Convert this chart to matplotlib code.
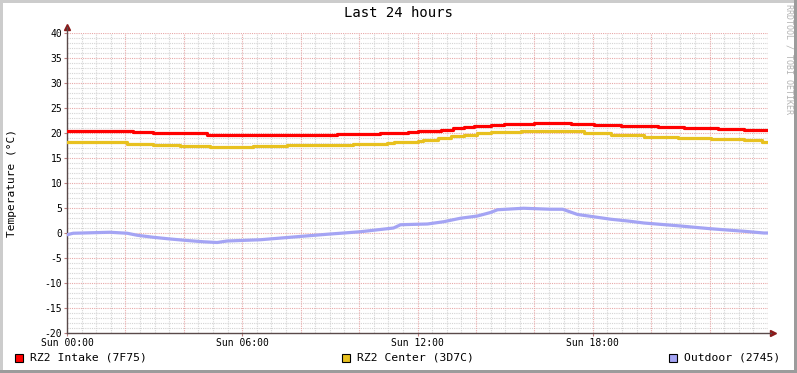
import numpy as np
import matplotlib
matplotlib.use("Agg")
import matplotlib.pyplot as plt
from matplotlib.patches import Rectangle

# hours since Sun 00:00 and temperatures (degC)
intake_h = [0, 2.26, 2.95, 4.8, 9.26, 10.73, 11.66, 12.0, 12.79, 13.2, 13.58, 13.92,
            14.5, 14.95, 15.98, 17.24, 18.03, 18.96, 20.23, 21.12, 22.28, 23.17, 24]
intake_t = [20.45, 20.2, 20.0, 19.7, 19.8, 20.0, 20.3, 20.45, 20.7, 21.0, 21.25, 21.45,
            21.65, 21.85, 22.05, 21.9, 21.7, 21.45, 21.25, 21.05, 20.85, 20.65, 20.65]

center_h = [0, 2.06, 2.95, 3.87, 4.9, 6.38, 7.54, 9.8, 10.97, 11.18, 12.0, 12.2, 12.69,
            13.13, 13.58, 14.05, 14.5, 15.53, 16.56, 17.69, 18.62, 19.75, 20.91, 22.04,
            23.17, 23.8, 24]
center_t = [18.15, 17.9, 17.65, 17.4, 17.2, 17.45, 17.6, 17.75, 17.95, 18.25, 18.5, 18.65,
            19.05, 19.4, 19.7, 19.95, 20.2, 20.35, 20.4, 20.05, 19.65, 19.3, 18.95, 18.75,
            18.6, 18.3, 18.3]

outdoor_h = [0, 0.21, 1.47, 2.06, 2.4, 2.95, 3.53, 4.11, 4.66, 5.14, 5.48, 6.62, 7.75,
             8.91, 10.04, 11.18, 11.42, 12.0, 12.34, 12.89, 13.47, 14.05, 14.5, 14.74,
             15.63, 16.56, 16.97, 17.48, 18.03, 18.62, 19.2, 19.75, 20.91, 22.04, 23.17,
             23.86, 24]
outdoor_t = [-0.35, -0.05, 0.15, -0.05, -0.45, -0.85, -1.2, -1.5, -1.75, -1.9, -1.6, -1.35,
             -0.8, -0.25, 0.25, 1.0, 1.65, 1.75, 1.8, 2.25, 2.95, 3.4, 4.1, 4.65, 4.95,
             4.75, 4.75, 3.7, 3.25, 2.75, 2.4, 2.0, 1.45, 0.85, 0.35, 0.0, 0.0]

x_ticks = [0, 6, 12, 18]
x_labels = ["Sun 00:00", "Sun 06:00", "Sun 12:00", "Sun 18:00"]
y_ticks = list(range(-20, 41, 5))

labels = ["RZ2 Intake (7F75)", "RZ2 Center (3D7C)", "Outdoor (2745)"]
colors = ["#ff0000", "#e8c11f", "#a4a4f4"]

W, H = 797, 373
mono = "DejaVu Sans Mono"

fig = plt.figure(figsize=(W / 100, H / 100), dpi=100)
fig.patch.set_facecolor("white")


def fx(px):
    return px / W


def fy(py):
    return 1 - py / H


# outer border like rrdtool's shaded frame
fig.add_artist(Rectangle((0, fy(3)), 1, 3 / H, transform=fig.transFigure, color="#cccccc", lw=0))
fig.add_artist(Rectangle((0, 0), 3 / W, 1, transform=fig.transFigure, color="#cccccc", lw=0))
fig.add_artist(Rectangle((0, 0), 1, 3 / H, transform=fig.transFigure, color="#9c9c9c", lw=0))
fig.add_artist(Rectangle((1 - 3 / W, 0), 3 / W, 1, transform=fig.transFigure, color="#9c9c9c", lw=0))

ax = fig.add_axes([fx(67), fy(333), fx(768) - fx(67), (333 - 33) / H])
ax.set_facecolor("white")
ax.set_xlim(0, 24)
ax.set_ylim(-20, 40)

# grid: minor grey dotted, major red dotted
for h in np.arange(0.5, 24, 0.5):
    if h % 2:
        ax.axvline(h, color="#d4d4d4", lw=0.8, ls=(0, (1, 1)), zorder=0)
for t in range(-19, 40):
    if t % 5:
        ax.axhline(t, color="#d4d4d4", lw=0.8, ls=(0, (1, 1)), zorder=0)
for h in range(2, 25, 2):
    ax.axvline(h, color="#e8a8a8", lw=0.8, ls=(0, (1, 1)), zorder=1)
for t in range(-15, 41, 5):
    ax.axhline(t, color="#e8a8a8", lw=0.8, ls=(0, (1, 1)), zorder=1)

ax.plot(intake_h, intake_t, color=colors[0], lw=2.3, drawstyle="steps-post", zorder=3)
ax.plot(center_h, center_t, color=colors[1], lw=2.3, drawstyle="steps-post", zorder=3)
ax.plot(outdoor_h, outdoor_t, color=colors[2], lw=2.3, zorder=3)

for s in ["top", "right"]:
    ax.spines[s].set_visible(False)
for s in ["left", "bottom"]:
    ax.spines[s].set_color("#5a4a4a")
    ax.spines[s].set_linewidth(1)
ax.spines["left"].set_bounds(-20, 41.2)
ax.spines["bottom"].set_bounds(0, 24.1)
ax.plot([0], [1.02], marker="^", color="#8b1a1a", ms=5, transform=ax.transAxes, clip_on=False)
ax.plot([1.007], [0], marker=">", color="#8b1a1a", ms=5, transform=ax.transAxes, clip_on=False)

ax.set_xticks(x_ticks)
ax.set_xticklabels(x_labels, fontfamily=mono, fontsize=7)
ax.set_yticks(y_ticks)
ax.set_yticklabels([str(v) for v in y_ticks], fontfamily=mono, fontsize=7)
ax.tick_params(axis="both", length=2, width=0.8, color="#c08080", pad=1.5)
ax.set_ylabel("Temperature (°C)", fontfamily=mono, fontsize=8, labelpad=20)

fig.text(0.5, fy(13), "Last 24 hours", ha="center", va="center", fontfamily=mono, fontsize=10)
fig.text(fx(789), fy(4), "RRDTOOL / TOBI OETIKER", rotation=270, ha="center", va="top",
         fontfamily=mono, fontsize=6, color="#b4b4b4")

# legend row
box_x = [15, 342, 669]
for bx, lab, col in zip(box_x, labels, colors):
    fig.add_artist(Rectangle((fx(bx), fy(362)), 8 / W, 8 / H, transform=fig.transFigure,
                             facecolor=col, edgecolor="black", lw=0.8))
    fig.text(fx(bx + 15), fy(358), lab, ha="left", va="center", fontfamily=mono, fontsize=8.2)

fig.savefig("out.png", dpi=100)
